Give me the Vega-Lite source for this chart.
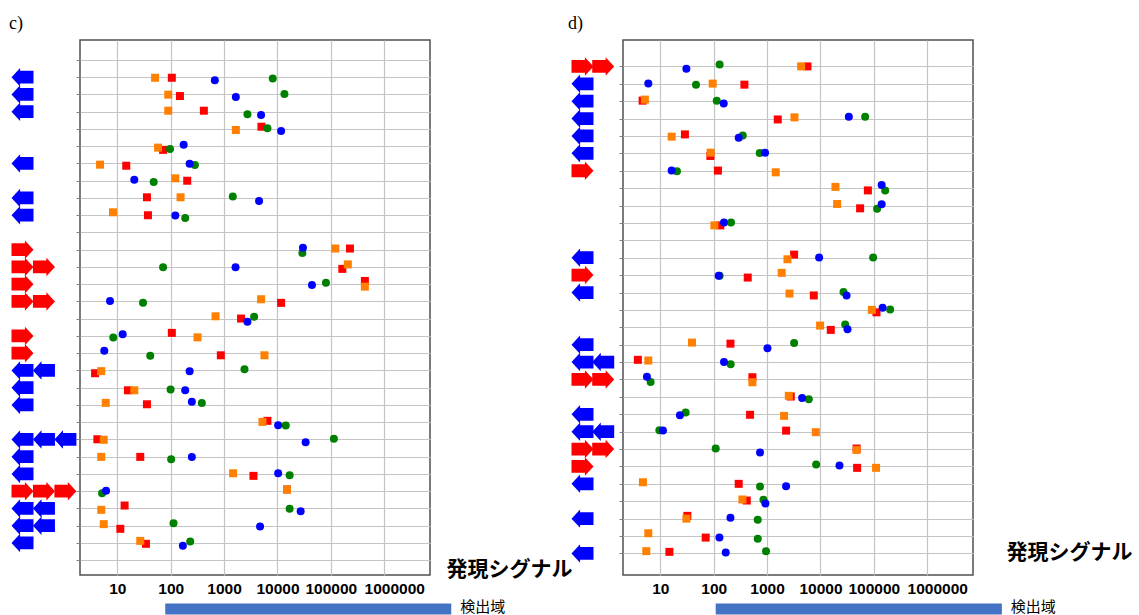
{
  "$schema": "https://vega.github.io/schema/vega-lite/v6.json",
  "background": "white",
  "padding": {"left": 8, "top": 14, "right": 0, "bottom": 0},
  "config": {
    "view": {"stroke": "#505050", "strokeWidth": 1.5},
    "title": {"font": "Liberation Serif", "fontSize": 18, "fontWeight": "normal", "color": "#000000"}
  },
  "datasets": {
    "c_pts": [
      {"s":"red","v":105,"pos":2.03},{"s":"orange","v":51,"pos":2.03},{"s":"green","v":8150,"pos":2.07},{"s":"blue","v":671,"pos":2.18},
      {"s":"red","v":149,"pos":3.09},{"s":"orange","v":90,"pos":3.01},{"s":"green","v":13500,"pos":2.97},{"s":"blue","v":1660,"pos":3.14},
      {"s":"red","v":418,"pos":3.94},{"s":"orange","v":90,"pos":3.94},{"s":"green","v":2740,"pos":4.15},{"s":"blue","v":4930,"pos":4.19},
      {"s":"red","v":5010,"pos":4.87},{"s":"orange","v":1660,"pos":5.06},{"s":"green","v":6490,"pos":4.96},{"s":"blue","v":11700,"pos":5.11},
      {"s":"red","v":72,"pos":6.21},{"s":"orange","v":58,"pos":6.08},{"s":"green","v":97,"pos":6.16},{"s":"blue","v":175,"pos":5.92},
      {"s":"red","v":14.7,"pos":7.13},{"s":"orange","v":4.75,"pos":7.07},{"s":"green","v":284,"pos":7.09},{"s":"blue","v":226,"pos":7.01},
      {"s":"red","v":204,"pos":8.0},{"s":"orange","v":122,"pos":7.86},{"s":"green","v":48,"pos":8.07},{"s":"blue","v":20.8,"pos":7.95},
      {"s":"red","v":35.9,"pos":8.96},{"s":"orange","v":153,"pos":8.96},{"s":"green","v":1456,"pos":8.91},{"s":"blue","v":4520,"pos":9.17},
      {"s":"red","v":37.5,"pos":10.0},{"s":"orange","v":8.3,"pos":9.83},{"s":"green","v":187,"pos":10.16},{"s":"blue","v":122,"pos":10.02},
      {"s":"red","v":228000,"pos":11.93},{"s":"orange","v":121000,"pos":11.93},{"s":"green","v":29300,"pos":12.19},{"s":"blue","v":30000,"pos":11.88},
      {"s":"red","v":164000,"pos":13.11},{"s":"orange","v":208000,"pos":12.85},{"s":"green","v":72,"pos":13.02},{"s":"blue","v":1640,"pos":13.02},
      {"s":"red","v":434000,"pos":13.81},{"s":"orange","v":434000,"pos":14.14},{"s":"green","v":80900,"pos":13.91},{"s":"blue","v":44300,"pos":14.04},
      {"s":"red","v":11700,"pos":15.08},{"s":"orange","v":4930,"pos":14.87},{"s":"green","v":30.3,"pos":15.08},{"s":"blue","v":7.3,"pos":14.97},
      {"s":"red","v":2080,"pos":15.99},{"s":"orange","v":692,"pos":15.86},{"s":"green","v":3650,"pos":15.89},{"s":"blue","v":2740,"pos":16.18},
      {"s":"red","v":105,"pos":16.82},{"s":"orange","v":318,"pos":17.08},{"s":"green","v":8.4,"pos":17.09},{"s":"blue","v":12.6,"pos":16.9},
      {"s":"red","v":869,"pos":18.12},{"s":"orange","v":5700,"pos":18.12},{"s":"green","v":41.4,"pos":18.14},{"s":"blue","v":5.7,"pos":17.85},
      {"s":"red","v":3.83,"pos":19.16},{"s":"orange","v":5.0,"pos":19.04},{"s":"green","v":2410,"pos":18.93},{"s":"blue","v":226,"pos":19.04},
      {"s":"red","v":15.8,"pos":20.15},{"s":"orange","v":20.8,"pos":20.15},{"s":"green","v":99.5,"pos":20.11},{"s":"blue","v":187,"pos":20.15},
      {"s":"red","v":35.9,"pos":20.96},{"s":"orange","v":6.07,"pos":20.88},{"s":"green","v":383,"pos":20.88},{"s":"blue","v":249,"pos":20.82},
      {"s":"red","v":6490,"pos":21.92},{"s":"orange","v":5240,"pos":21.98},{"s":"green","v":14300,"pos":22.19},{"s":"blue","v":10300,"pos":22.18},
      {"s":"red","v":4.23,"pos":22.99},{"s":"orange","v":5.57,"pos":23.02},{"s":"green","v":114000,"pos":22.96},{"s":"blue","v":33700,"pos":23.16},
      {"s":"red","v":26.9,"pos":24.01},{"s":"orange","v":5.0,"pos":24.01},{"s":"green","v":102,"pos":24.15},{"s":"blue","v":249,"pos":24.01},
      {"s":"red","v":3550,"pos":25.11},{"s":"orange","v":1476,"pos":24.96},{"s":"green","v":16900,"pos":25.07},{"s":"blue","v":10300,"pos":24.96},
      {"s":"red","v":15100,"pos":25.9},{"s":"orange","v":15100,"pos":25.9},{"s":"green","v":5.18,"pos":26.12},{"s":"blue","v":6.15,"pos":25.98},
      {"s":"red","v":13.7,"pos":26.83},{"s":"orange","v":5.0,"pos":27.08},{"s":"green","v":16900,"pos":27.02},{"s":"blue","v":27200,"pos":27.16},
      {"s":"red","v":11.4,"pos":28.18},{"s":"orange","v":5.57,"pos":27.91},{"s":"green","v":113,"pos":27.86},{"s":"blue","v":4720,"pos":28.05},
      {"s":"red","v":34.4,"pos":29.05},{"s":"orange","v":26.9,"pos":28.88},{"s":"green","v":232,"pos":28.91},{"s":"blue","v":169,"pos":29.16}
    ],
    "d_pts": [
      {"s":"red","v":5710,"pos":1.0},{"s":"orange","v":4340,"pos":1.0},{"s":"green","v":129,"pos":0.89},{"s":"blue","v":30.8,"pos":1.13},
      {"s":"red","v":376,"pos":2.05},{"s":"orange","v":95.7,"pos":1.99},{"s":"green","v":46.6,"pos":2.05},{"s":"blue","v":5.96,"pos":1.99},
      {"s":"red","v":4.66,"pos":2.97},{"s":"orange","v":5.14,"pos":2.91},{"s":"green","v":114,"pos":2.97},{"s":"blue","v":154,"pos":3.14},
      {"s":"red","v":1585,"pos":4.05},{"s":"orange","v":3260,"pos":3.93},{"s":"green","v":68700,"pos":3.89},{"s":"blue","v":34000,"pos":3.89},
      {"s":"red","v":28.9,"pos":4.91},{"s":"orange","v":16.3,"pos":5.04},{"s":"green","v":350,"pos":4.98},{"s":"blue","v":294,"pos":5.1},
      {"s":"red","v":86.7,"pos":6.15},{"s":"orange","v":87.7,"pos":5.96},{"s":"green","v":728,"pos":5.98},{"s":"blue","v":916,"pos":5.96},
      {"s":"red","v":120,"pos":6.99},{"s":"orange","v":1452,"pos":7.09},{"s":"green","v":20.5,"pos":7.03},{"s":"blue","v":16.3,"pos":6.98},
      {"s":"red","v":77300,"pos":8.13},{"s":"orange","v":19100,"pos":7.93},{"s":"green","v":163000,"pos":8.13},{"s":"blue","v":140000,"pos":7.82},
      {"s":"red","v":55300,"pos":9.16},{"s":"orange","v":20500,"pos":8.91},{"s":"green","v":115000,"pos":9.18},{"s":"blue","v":140000,"pos":8.93},
      {"s":"red","v":133,"pos":10.14},{"s":"orange","v":103,"pos":10.14},{"s":"green","v":211,"pos":9.97},{"s":"blue","v":156,"pos":9.97},
      {"s":"red","v":3210,"pos":11.82},{"s":"orange","v":2410,"pos":12.09},{"s":"green","v":97000,"pos":11.99},{"s":"blue","v":9440,"pos":11.99},
      {"s":"red","v":434,"pos":13.14},{"s":"orange","v":1880,"pos":12.87},{"s":"green","v":129,"pos":13.03},{"s":"blue","v":124,"pos":13.03},
      {"s":"red","v":7500,"pos":14.17},{"s":"orange","v":2630,"pos":14.06},{"s":"green","v":27000,"pos":13.97},{"s":"blue","v":30800,"pos":14.17},
      {"s":"red","v":112000,"pos":15.14},{"s":"orange","v":91800,"pos":15.0},{"s":"green","v":202000,"pos":14.97},{"s":"blue","v":146000,"pos":14.87},
      {"s":"red","v":15600,"pos":16.15},{"s":"orange","v":9840,"pos":15.9},{"s":"green","v":29000,"pos":15.84},{"s":"blue","v":32100,"pos":16.11},
      {"s":"red","v":206,"pos":16.94},{"s":"orange","v":39.2,"pos":16.88},{"s":"green","v":3210,"pos":16.9},{"s":"blue","v":1016,"pos":17.21},
      {"s":"red","v":3.8,"pos":17.87},{"s":"orange","v":5.96,"pos":17.91},{"s":"green","v":208,"pos":18.13},{"s":"blue","v":156,"pos":17.99},
      {"s":"red","v":531,"pos":18.87},{"s":"orange","v":531,"pos":19.16},{"s":"green","v":6.58,"pos":19.14},{"s":"blue","v":5.61,"pos":18.85},
      {"s":"red","v":2780,"pos":19.98},{"s":"orange","v":2550,"pos":19.94},{"s":"green","v":6040,"pos":20.14},{"s":"blue","v":4530,"pos":20.06},
      {"s":"red","v":480,"pos":21.03},{"s":"orange","v":2080,"pos":21.09},{"s":"green","v":29.8,"pos":20.9},{"s":"blue","v":23.3,"pos":21.06},
      {"s":"red","v":2270,"pos":21.94},{"s":"orange","v":8180,"pos":22.03},{"s":"green","v":9.6,"pos":21.92},{"s":"blue","v":11.2,"pos":21.94},
      {"s":"red","v":47500,"pos":22.97},{"s":"orange","v":47500,"pos":23.05},{"s":"green","v":109,"pos":22.97},{"s":"blue","v":738,"pos":23.2},
      {"s":"red","v":48600,"pos":24.08},{"s":"orange","v":110000,"pos":24.08},{"s":"green","v":8300,"pos":23.89},{"s":"blue","v":22700,"pos":23.95},
      {"s":"red","v":294,"pos":25.0},{"s":"orange","v":4.72,"pos":24.91},{"s":"green","v":738,"pos":25.16},{"s":"blue","v":2270,"pos":25.14},
      {"s":"red","v":416,"pos":25.96},{"s":"orange","v":345,"pos":25.9},{"s":"green","v":855,"pos":25.92},{"s":"blue","v":931,"pos":26.13},
      {"s":"red","v":32.1,"pos":26.84},{"s":"orange","v":30.8,"pos":27.0},{"s":"green","v":668,"pos":27.07},{"s":"blue","v":206,"pos":26.95},
      {"s":"red","v":70.8,"pos":28.09},{"s":"orange","v":5.96,"pos":27.84},{"s":"green","v":668,"pos":28.15},{"s":"blue","v":128,"pos":28.09},
      {"s":"red","v":14.8,"pos":28.91},{"s":"orange","v":5.46,"pos":28.87},{"s":"green","v":955,"pos":28.87},{"s":"blue","v":168,"pos":28.95}
    ],
    "c_arr": [
      {"col":1,"row":2,"dir":"L"},{"col":1,"row":3,"dir":"L"},{"col":1,"row":4,"dir":"L"},{"col":1,"row":7,"dir":"L"},
      {"col":1,"row":9,"dir":"L"},{"col":1,"row":10,"dir":"L"},{"col":1,"row":12,"dir":"R"},{"col":1,"row":13,"dir":"R"},
      {"col":2,"row":13,"dir":"R"},{"col":1,"row":14,"dir":"R"},{"col":1,"row":15,"dir":"R"},{"col":2,"row":15,"dir":"R"},
      {"col":1,"row":17,"dir":"R"},{"col":1,"row":18,"dir":"R"},{"col":1,"row":19,"dir":"L"},{"col":2,"row":19,"dir":"L"},
      {"col":1,"row":20,"dir":"L"},{"col":1,"row":21,"dir":"L"},{"col":1,"row":23,"dir":"L"},{"col":2,"row":23,"dir":"L"},
      {"col":3,"row":23,"dir":"L"},{"col":1,"row":24,"dir":"L"},{"col":1,"row":25,"dir":"L"},{"col":1,"row":26,"dir":"R"},
      {"col":2,"row":26,"dir":"R"},{"col":3,"row":26,"dir":"R"},{"col":1,"row":27,"dir":"L"},{"col":2,"row":27,"dir":"L"},
      {"col":1,"row":28,"dir":"L"},{"col":2,"row":28,"dir":"L"},{"col":1,"row":29,"dir":"L"}
    ],
    "d_arr": [
      {"col":1,"row":1,"dir":"R"},{"col":2,"row":1,"dir":"R"},{"col":1,"row":2,"dir":"L"},{"col":1,"row":3,"dir":"L"},
      {"col":1,"row":4,"dir":"L"},{"col":1,"row":5,"dir":"L"},{"col":1,"row":6,"dir":"L"},{"col":1,"row":7,"dir":"R"},
      {"col":1,"row":12,"dir":"L"},{"col":1,"row":13,"dir":"R"},{"col":1,"row":14,"dir":"L"},{"col":1,"row":17,"dir":"L"},
      {"col":1,"row":18,"dir":"L"},{"col":2,"row":18,"dir":"L"},{"col":1,"row":19,"dir":"R"},{"col":2,"row":19,"dir":"R"},
      {"col":1,"row":21,"dir":"L"},{"col":1,"row":22,"dir":"L"},{"col":2,"row":22,"dir":"L"},{"col":1,"row":23,"dir":"R"},
      {"col":2,"row":23,"dir":"R"},{"col":1,"row":24,"dir":"R"},{"col":1,"row":25,"dir":"L"},{"col":1,"row":27,"dir":"L"},
      {"col":1,"row":29,"dir":"L"}
    ],
    "c_rng": [{"lo":79,"hi":18000000,"label":"検出域"}],
    "d_rng": [{"lo":109,"hi":25000000,"label":"検出域"}]
  },
  "columns": 2,
  "spacing": {"row": 28.5, "column": 193},
  "bounds": "flush",
  "concat": [
    {
      "width": 350, "height": 535,
      "title": {"text": "c)", "anchor": "start", "frame": "group", "dx": -71, "offset": 7},
      "layer": [
        {
          "data": {"name": "c_pts"},
          "mark": {"type": "point", "filled": true, "opacity": 1, "strokeWidth": 0},
          "encoding": {
            "x": {"field": "v", "type": "quantitative",
              "scale": {"type": "log", "domain": [2, 7200000], "nice": false},
              "axis": {"orient": "bottom", "values": [10,100,1000,10000,100000,1000000], "format": "d",
                "labelFont": "Liberation Sans", "labelFontSize": 15.5, "labelFontWeight": "bold", "labelColor": "#000000",
                "labelPadding": 6, "labelFlush": false, "labelOverlap": false, "ticks": false, "domain": false,
                "labelOffset": {"condition": {"test": "datum.value >= 1000000", "value": 10}, "value": 0},
                "grid": true, "gridColor": "#C4C4C4", "gridWidth": 1.2,
                "title": "発現シグナル", "titleFont": "Noto Sans CJK JP", "titleFontSize": 21, "titleFontWeight": "bold",
                "titleColor": "#000000", "titleX": 366, "titleY": -5.5, "titleAlign": "left", "titleBaseline": "middle", "titleAngle": 0}},
            "y": {"field": "pos", "type": "quantitative",
              "scale": {"domain": [-0.159, 30.858], "reverse": true, "nice": false, "zero": false},
              "axis": {"values": [1,2,3,4,5,6,7,8,9,10,11,12,13,14,15,16,17,18,19,20,21,22,23,24,25,26,27,28,29,30],
                "labels": false, "ticks": true, "tickSize": 4, "tickColor": "#808080", "domain": false,
                "grid": true, "gridColor": "#C4C4C4", "gridWidth": 1.2, "title": null}},
            "shape": {"field": "s", "type": "nominal", "scale": {"domain": ["red","orange","green","blue"], "range": ["square","square","circle","circle"]}, "legend": null},
            "color": {"field": "s", "type": "nominal", "scale": {"domain": ["red","orange","green","blue"], "range": ["#FF0000","#FF8000","#008000","#0000FF"]}, "legend": null},
            "size": {"field": "s", "type": "nominal", "scale": {"domain": ["red","orange","green","blue"], "range": [64,64,58,58]}, "legend": null}
          }
        },
        {
          "data": {"name": "c_arr"},
          "mark": {"type": "point", "filled": true, "opacity": 1, "strokeWidth": 0, "size": 484},
          "encoding": {
            "x": {"field": "col", "type": "quantitative", "scale": {"domain": [1, 3], "range": [-57.5, -14.6]}, "axis": null},
            "y": {"field": "row", "type": "quantitative",
              "axis": {"values": [1,2,3,4,5,6,7,8,9,10,11,12,13,14,15,16,17,18,19,20,21,22,23,24,25,26,27,28,29,30],
                "labels": false, "ticks": true, "tickSize": 4, "tickColor": "#808080", "domain": false,
                "grid": true, "gridColor": "#C4C4C4", "gridWidth": 1.2, "title": null}},
            "shape": {"field": "dir", "type": "nominal", "scale": {"domain": ["L","R"], "range": ["M-1,0L-0.22,-0.84L-0.22,-0.58L1,-0.58L1,0.58L-0.22,0.58L-0.22,0.84Z", "M1,0L0.22,-0.84L0.22,-0.58L-1,-0.58L-1,0.58L0.22,0.58L0.22,0.84Z"]}, "legend": null},
            "color": {"field": "dir", "type": "nominal", "scale": {"domain": ["L","R"], "range": ["#0000FF","#FF0000"]}, "legend": null}
          }
        }
      ],
      "resolve": {"scale": {"x": "independent", "shape": "independent", "color": "independent"}}
    },
    {
      "width": 350, "height": 535,
      "title": {"text": "d)", "anchor": "start", "frame": "group", "dx": -55, "offset": 7},
      "layer": [
        {
          "data": {"name": "d_pts"},
          "mark": {"type": "point", "filled": true, "opacity": 1, "strokeWidth": 0},
          "encoding": {
            "x": {"field": "v", "type": "quantitative",
              "scale": {"type": "log", "domain": [2, 7200000], "nice": false},
              "axis": {"orient": "bottom", "values": [10,100,1000,10000,100000,1000000], "format": "d",
                "labelFont": "Liberation Sans", "labelFontSize": 15.5, "labelFontWeight": "bold", "labelColor": "#000000",
                "labelPadding": 6, "labelFlush": false, "labelOverlap": false, "ticks": false, "domain": false,
                "labelOffset": {"condition": {"test": "datum.value >= 1000000", "value": 10}, "value": 0},
                "grid": true, "gridColor": "#C4C4C4", "gridWidth": 1.2,
                "title": "発現シグナル", "titleFont": "Noto Sans CJK JP", "titleFontSize": 21, "titleFontWeight": "bold",
                "titleColor": "#000000", "titleX": 383, "titleY": -22.5, "titleAlign": "left", "titleBaseline": "middle", "titleAngle": 0}},
            "y": {"field": "pos", "type": "quantitative",
              "scale": {"domain": [-0.517, 30.241], "reverse": true, "nice": false, "zero": false},
              "axis": {"values": [1,2,3,4,5,6,7,8,9,10,11,12,13,14,15,16,17,18,19,20,21,22,23,24,25,26,27,28,29],
                "labels": false, "ticks": true, "tickSize": 4, "tickColor": "#808080", "domain": false,
                "grid": true, "gridColor": "#C4C4C4", "gridWidth": 1.2, "title": null}},
            "shape": {"field": "s", "type": "nominal", "scale": {"domain": ["red","orange","green","blue"], "range": ["square","square","circle","circle"]}, "legend": null},
            "color": {"field": "s", "type": "nominal", "scale": {"domain": ["red","orange","green","blue"], "range": ["#FF0000","#FF8000","#008000","#0000FF"]}, "legend": null},
            "size": {"field": "s", "type": "nominal", "scale": {"domain": ["red","orange","green","blue"], "range": [64,64,58,58]}, "legend": null}
          }
        },
        {
          "data": {"name": "d_arr"},
          "mark": {"type": "point", "filled": true, "opacity": 1, "strokeWidth": 0, "size": 484},
          "encoding": {
            "x": {"field": "col", "type": "quantitative", "scale": {"domain": [1, 2], "range": [-40.5, -19.8]}, "axis": null},
            "y": {"field": "row", "type": "quantitative",
              "axis": {"values": [1,2,3,4,5,6,7,8,9,10,11,12,13,14,15,16,17,18,19,20,21,22,23,24,25,26,27,28,29],
                "labels": false, "ticks": true, "tickSize": 4, "tickColor": "#808080", "domain": false,
                "grid": true, "gridColor": "#C4C4C4", "gridWidth": 1.2, "title": null}},
            "shape": {"field": "dir", "type": "nominal", "scale": {"domain": ["L","R"], "range": ["M-1,0L-0.22,-0.84L-0.22,-0.58L1,-0.58L1,0.58L-0.22,0.58L-0.22,0.84Z", "M1,0L0.22,-0.84L0.22,-0.58L-1,-0.58L-1,0.58L0.22,0.58L0.22,0.84Z"]}, "legend": null},
            "color": {"field": "dir", "type": "nominal", "scale": {"domain": ["L","R"], "range": ["#0000FF","#FF0000"]}, "legend": null}
          }
        }
      ],
      "resolve": {"scale": {"x": "independent", "shape": "independent", "color": "independent"}}
    },
    {
      "width": 350, "height": 11,
      "view": {"stroke": null},
      "data": {"name": "c_rng"},
      "layer": [
        {"mark": {"type": "rect", "color": "#4472C4"},
         "encoding": {
           "x": {"field": "lo", "type": "quantitative", "scale": {"type": "log", "domain": [2, 7200000], "nice": false}, "axis": null},
           "x2": {"field": "hi"}}},
        {"mark": {"type": "text", "align": "left", "baseline": "middle", "dx": 9, "dy": -2, "font": "Noto Sans CJK JP", "fontSize": 15, "color": "#000000"},
         "encoding": {
           "x": {"field": "hi", "type": "quantitative", "scale": {"type": "log", "domain": [2, 7200000], "nice": false}, "axis": null},
           "text": {"field": "label"}}}
      ]
    },
    {
      "width": 350, "height": 11,
      "view": {"stroke": null},
      "data": {"name": "d_rng"},
      "layer": [
        {"mark": {"type": "rect", "color": "#4472C4"},
         "encoding": {
           "x": {"field": "lo", "type": "quantitative", "scale": {"type": "log", "domain": [2, 7200000], "nice": false}, "axis": null},
           "x2": {"field": "hi"}}},
        {"mark": {"type": "text", "align": "left", "baseline": "middle", "dx": 9, "dy": -2, "font": "Noto Sans CJK JP", "fontSize": 15, "color": "#000000"},
         "encoding": {
           "x": {"field": "hi", "type": "quantitative", "scale": {"type": "log", "domain": [2, 7200000], "nice": false}, "axis": null},
           "text": {"field": "label"}}}
      ]
    }
  ]
}
